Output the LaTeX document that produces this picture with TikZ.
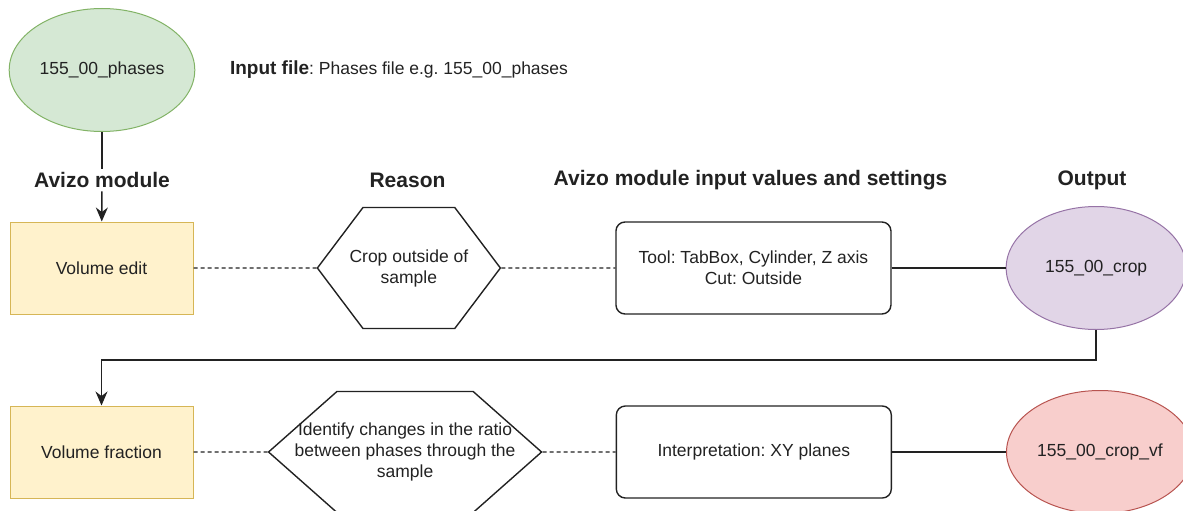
\documentclass[tikz,border=0pt]{standalone}
\usepackage{fontspec}
\setmainfont{Liberation Sans}
\usepackage{xcolor}
\usepackage{tikz}
\usetikzlibrary{shapes,arrows,arrows.meta,positioning,calc}
\definecolor{avizoink}{HTML}{222222}
\definecolor{avizoyellow}{HTML}{FFF2CC}
\definecolor{avizoyellowline}{HTML}{D6B656}
\definecolor{avizogreen}{HTML}{D5E8D4}
\definecolor{avizogreenline}{HTML}{82B366}
\definecolor{avizopurple}{HTML}{E1D5E7}
\definecolor{avizopurpleline}{HTML}{9673A6}
\definecolor{avizored}{HTML}{F8CECC}
\definecolor{avizoredline}{HTML}{B85450}
\newcommand{\bodyfont}{\fontsize{17.5}{21}\selectfont}
\newcommand{\headfont}{\fontsize{21}{25}\selectfont\bfseries}
\frenchspacing

\begin{document}
\begin{tikzpicture}[x=1pt, y=1pt, >={Stealth[length=14pt, width=12pt]}, line width=1.4pt, avizoink,
    header/.style={font=\headfont, inner sep=3pt},
    modbox/.style={draw=avizoyellowline, fill=avizoyellow, rectangle, minimum width=183pt, minimum height=92pt, font=\bodyfont, line width=1pt},
    reasonhex/.style={draw, signal, signal to=west and east, minimum height=121pt, align=center, font=\bodyfont, inner sep=0pt},
    settingbox/.style={draw, rectangle, rounded corners=9pt, minimum width=275pt, minimum height=92pt, align=center, font=\bodyfont},
    datafile/.style={draw, ellipse, minimum width=180pt, minimum height=123pt, font=\bodyfont, line width=1pt},
    dashlink/.style={dash pattern=on 4pt off 3pt},
    outlink/.style={line width=2.8pt}]
    \useasboundingbox (0,0) rectangle (1183,-511);

    % Input file and column headers
    \node [datafile, draw=avizogreenline, fill=avizogreen] (phases) at (102,-70) {155\_00\_phases};
    \node [anchor=west, font=\bodyfont] (infile) at (226,-70) {{\fontsize{19}{22}\selectfont\bfseries Input file}: Phases file e.g. 155\_00\_phases};
    \node [header] (hmodule) at (102,-180) {Avizo module};
    \node [header] (hreason) at (407.5,-180) {Reason};
    \node [header] (hsettings) at (750.5,-180) {Avizo module input values and settings};
    \node [header] (houtput) at (1092,-180) {Output};

    % First step
    \node [modbox] (edit) at (101.5,-268) {Volume edit};
    \node [reasonhex, minimum width=183pt, signal pointer angle=106, right=123pt of edit] (cropwhy) {\makebox[90pt]{Crop outside of}\\\makebox[90pt]{sample}};
    \node [settingbox, right=114pt of cropwhy] (cropset) {Tool: TabBox, Cylinder, Z axis\\Cut: Outside};
    \node [datafile, draw=avizopurpleline, fill=avizopurple, right=114pt of cropset] (crop) {155\_00\_crop};

    % Second step
    \node [modbox, below=91pt of edit] (frac) {Volume fraction};
    \node [reasonhex, minimum width=273pt, signal pointer angle=83, right=74pt of frac] (fracwhy) {\makebox[130pt]{Identify changes in the ratio}\\\makebox[130pt]{between phases through the}\\\makebox[130pt]{sample}};
    \node [settingbox, right=73pt of fracwhy] (fracset) {Interpretation: XY planes};
    \node [datafile, draw=avizoredline, fill=avizored, right=114pt of fracset] (cropvf) {155\_00\_crop\_vf};

    % Edges
    \draw (phases) -- (hmodule);
    \draw [->] (hmodule) -- (edit);
    \draw [dashlink] (edit) -- (cropwhy);
    \draw [dashlink] (cropwhy) -- (cropset);
    \draw [outlink] (cropset) -- (crop);
    \draw [->] (crop.south) -- ++(0,-30pt) -| (frac.north);
    \draw [dashlink] (frac) -- (fracwhy);
    \draw [dashlink] (fracwhy) -- (fracset);
    \draw [outlink] (fracset) -- (cropvf);
\end{tikzpicture}
\end{document}
